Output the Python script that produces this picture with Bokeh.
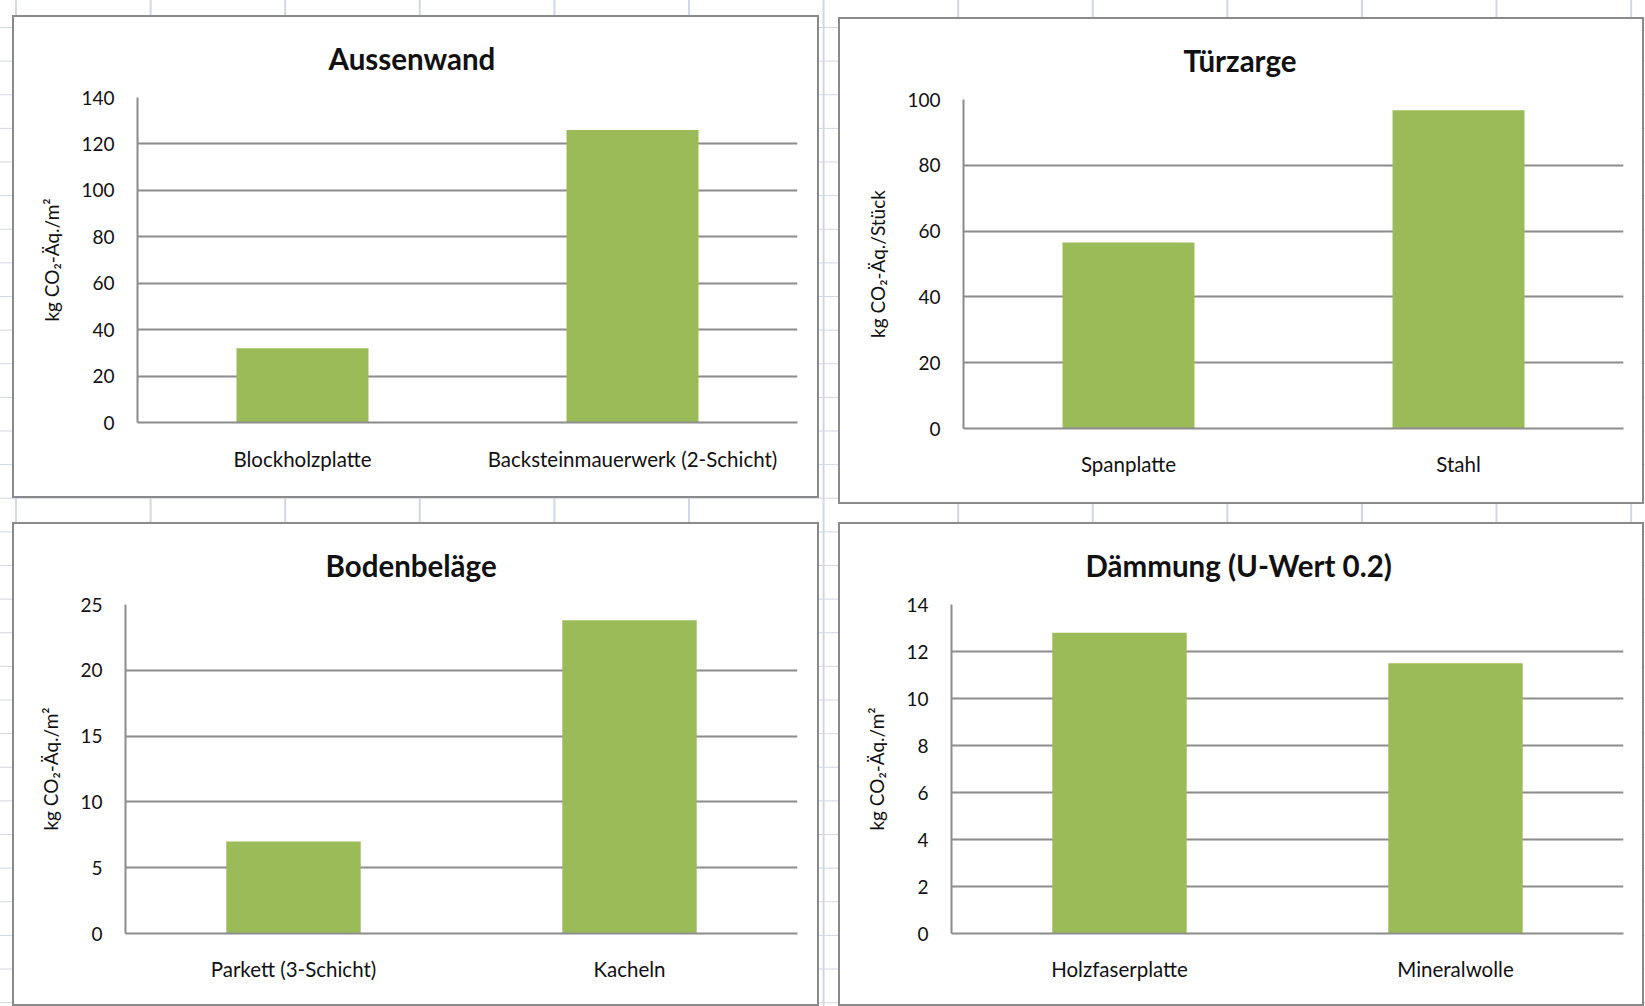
from bokeh.plotting import figure
from bokeh.models import FixedTicker, FactorRange, Range1d, Title
from bokeh.layouts import row, column
from bokeh.embed import file_html
from bokeh.resources import INLINE

# ---- data ----
aussen_cats = ["Blockholzplatte", "Backsteinmauerwerk (2-Schicht)"]
aussen_vals = [32, 126]
tuer_cats = ["Spanplatte", "Stahl"]
tuer_vals = [56.5, 96.7]
boden_cats = ["Parkett (3-Schicht)", "Kacheln"]
boden_vals = [7.0, 23.8]
daemm_cats = ["Holzfaserplatte", "Mineralwolle"]
daemm_vals = [12.8, 11.5]

titles = ["Aussenwand", "Türzarge", "Bodenbeläge", "Dämmung (U-Wert 0.2)"]
ylabels = ["kg CO₂-Äq./m²", "kg CO₂-Äq./Stück", "kg CO₂-Äq./m²", "kg CO₂-Äq./m²"]
y_max = [140, 100, 25, 14]
y_step = [20, 20, 5, 2]

FONT = "Lato"
BAR = "#9BBB59"
GRID = "#8c8c8c"
BORDER = 2


def make(cats, vals, title, ylabel, ymax, step, w, h, borders, toff, xstand, margin):
    bl, br, bt, bb = borders
    p = figure(x_range=FactorRange(*cats, range_padding=0),
               y_range=Range1d(0, ymax),
               width=w, height=h, output_backend="svg", toolbar_location=None,
               min_border_left=bl, min_border_right=br,
               min_border_top=bt, min_border_bottom=bb,
               margin=margin)
    p.styles = {"border": "%dpx solid #8a8a8a" % BORDER, "box-sizing": "border-box",
                "background-color": "white"}
    p.vbar(x=cats, top=vals, width=0.4, color=BAR, line_color=None)
    p.outline_line_color = None
    p.background_fill_color = "white"
    p.border_fill_color = "white"

    xax = p.below[0]
    yax = p.left[0]

    ticks = list(range(0, ymax + 1, step))
    yax.ticker = FixedTicker(ticks=ticks)
    p.ygrid.ticker = FixedTicker(ticks=ticks)
    p.ygrid.grid_line_color = GRID
    p.ygrid.grid_line_width = 2
    p.xgrid.grid_line_color = None

    for ax in (xax, yax):
        ax.axis_line_color = GRID
        ax.axis_line_width = 2
        ax.major_tick_line_color = None
        ax.minor_tick_line_color = None
        ax.major_tick_out = 0
        ax.major_tick_in = 0
        ax.major_label_text_font = FONT
        ax.major_label_text_color = "#111111"
    yax.major_label_text_font_size = "19px"
    yax.major_label_standoff = 23
    yax.axis_label = ylabel
    yax.axis_label_text_font = FONT
    yax.axis_label_text_font_size = "19px"
    yax.axis_label_text_font_style = "normal"
    yax.axis_label_text_color = "#111111"
    yax.axis_label_standoff = 15
    xax.major_label_text_font_size = "20.5px"
    xax.major_label_standoff = xstand

    p.add_layout(Title(text=title, align="left", vertical_align="top",
                       offset=toff, standoff=40,
                       text_font=FONT, text_font_size="29.5px",
                       text_font_style="bold", text_color="#111111"), "above")
    return p


p1 = make(aussen_cats, aussen_vals, titles[0], ylabels[0], y_max[0], y_step[0],
          807, 483, (123, 24, 80, 70), 191, 24, (15, 0, 0, 12))
p2 = make(tuer_cats, tuer_vals, titles[1], ylabels[1], y_max[1], y_step[1],
          806, 487, (123, 23, 80, 78), 220, 23, (17, 0, 0, 19))
p3 = make(boden_cats, boden_vals, titles[2], ylabels[2], y_max[2], y_step[2],
          807, 484, (111, 24, 80, 75), 200, 23, (18, 0, 0, 12))
p4 = make(daemm_cats, daemm_vals, titles[3], ylabels[3], y_max[3], y_step[3],
          806, 484, (111, 23, 80, 75), 134, 23, (18, 0, 0, 19))

layout = column(row(p1, p2), row(p3, p4))
layout.styles = {
    "background-color": "white",
    "background-image": "linear-gradient(to right, #d0d7e5 2px, transparent 2px), "
                        "linear-gradient(to bottom, #d0d7e5 1px, transparent 1px)",
    "background-size": "134.6px 33.63px",
    "background-position": "15px 27px",
    "min-width": "1645px",
    "min-height": "1006px",
}

open("out.html", "w").write(file_html(layout, INLINE))
